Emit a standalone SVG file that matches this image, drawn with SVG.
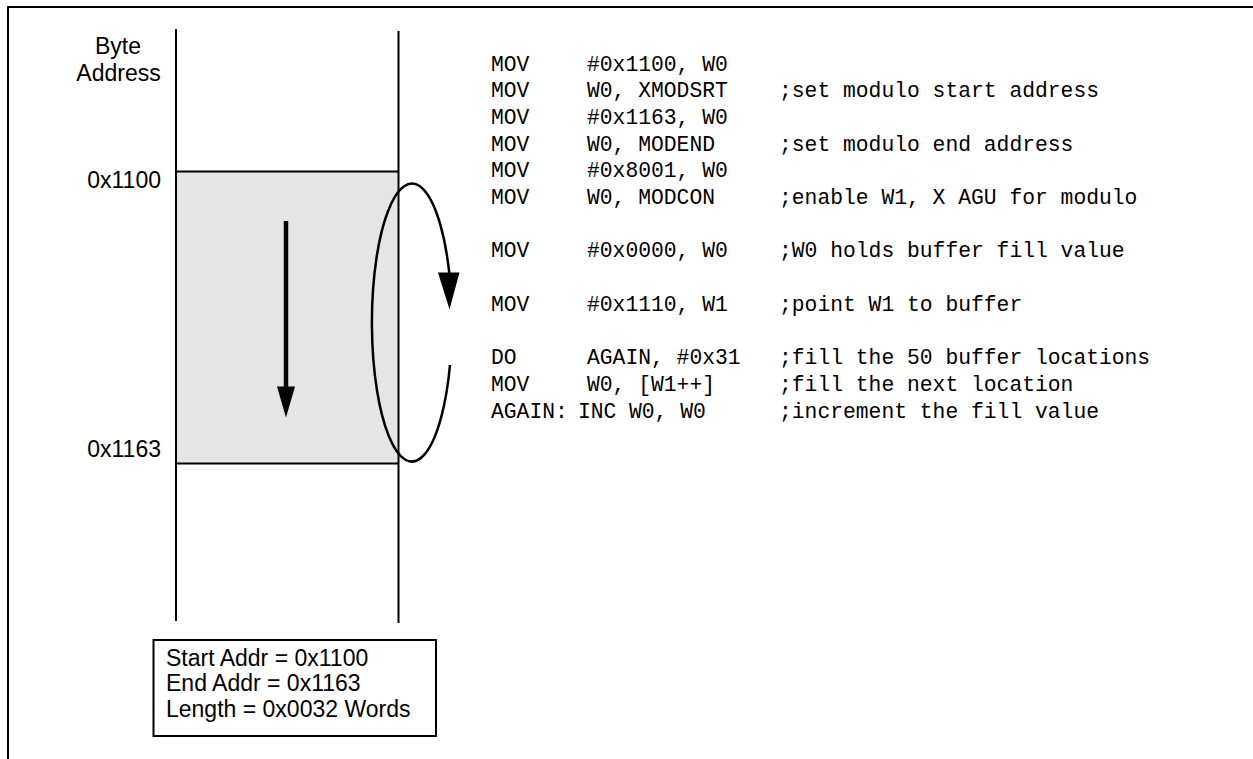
<svg xmlns="http://www.w3.org/2000/svg" width="1253" height="759" viewBox="0 0 1253 759">
<style>
.lbl{font-family:"Liberation Sans",Arial,sans-serif;font-size:23px;fill:#000}
.code{font-family:"Liberation Mono","Courier New",monospace;font-size:21.33px;fill:#000}
.ln{stroke:#000;stroke-width:2;fill:none}
</style>
<rect width="1253" height="759" fill="#fff"/>
<g id="frame">
<path class="ln" d="M8,759 V7 H1253" stroke-width="2.5"/>
</g>
<g id="memory">
<rect x="176" y="171.5" width="222.5" height="292" fill="#e5e5e5"/>
<line class="ln" x1="176" y1="29" x2="176" y2="621"/>
<line class="ln" x1="398.5" y1="31" x2="398.5" y2="623"/>
<line class="ln" x1="176" y1="171.5" x2="398.5" y2="171.5"/>
<line class="ln" x1="176" y1="463.5" x2="398.5" y2="463.5"/>
</g>
<g id="labels">
<text class="lbl" x="118" y="54" text-anchor="middle">Byte</text>
<text class="lbl" x="118.5" y="80.5" text-anchor="middle">Address</text>
<text class="lbl" x="161" y="188" text-anchor="end">0x1100</text>
<text class="lbl" x="161" y="456.5" text-anchor="end">0x1163</text>
</g>
<g id="connectors">
<line x1="286" y1="221" x2="286" y2="390" stroke="#000" stroke-width="4.5"/>
<polygon points="277,386.5 295,386.5 286,417.5" fill="#000"/>
<path d="M450,365 A40,139 0 1 1 449.6,276" stroke="#000" stroke-width="2.5" fill="none"/>
<polygon points="438,272.5 459.5,272.5 449.5,309.5" fill="#000"/>
</g>
<g id="code">
<text class="code" x="491" y="70.5">MOV</text>
<text class="code" x="587" y="70.5">#0x1100, W0</text>
<text class="code" x="491" y="97.2">MOV</text>
<text class="code" x="587" y="97.2">W0, XMODSRT</text>
<text class="code" x="779" y="97.2">;set modulo start address</text>
<text class="code" x="491" y="123.9">MOV</text>
<text class="code" x="587" y="123.9">#0x1163, W0</text>
<text class="code" x="491" y="150.6">MOV</text>
<text class="code" x="587" y="150.6">W0, MODEND</text>
<text class="code" x="779" y="150.6">;set modulo end address</text>
<text class="code" x="491" y="177.3">MOV</text>
<text class="code" x="587" y="177.3">#0x8001, W0</text>
<text class="code" x="491" y="204">MOV</text>
<text class="code" x="587" y="204">W0, MODCON</text>
<text class="code" x="779" y="204">;enable W1, X AGU for modulo</text>
<text class="code" x="491" y="257.4">MOV</text>
<text class="code" x="587" y="257.4">#0x0000, W0</text>
<text class="code" x="779" y="257.4">;W0 holds buffer fill value</text>
<text class="code" x="491" y="310.8">MOV</text>
<text class="code" x="587" y="310.8">#0x1110, W1</text>
<text class="code" x="779" y="310.8">;point W1 to buffer</text>
<text class="code" x="491" y="364.2">DO</text>
<text class="code" x="587" y="364.2">AGAIN, #0x31</text>
<text class="code" x="779" y="364.2">;fill the 50 buffer locations</text>
<text class="code" x="491" y="390.9">MOV</text>
<text class="code" x="587" y="390.9">W0, [W1++]</text>
<text class="code" x="779" y="390.9">;fill the next location</text>
<text class="code" x="491" y="417.6">AGAIN:</text>
<text class="code" x="578" y="417.6">INC</text>
<text class="code" x="629" y="417.6">W0, W0</text>
<text class="code" x="779" y="417.6">;increment the fill value</text>
</g>
<g id="info-box">
<rect x="153.5" y="640" width="282.5" height="96" fill="#fff" stroke="#000" stroke-width="2"/>
<text class="lbl" x="166" y="665.5">Start Addr = 0x1100</text>
<text class="lbl" x="166" y="691">End Addr = 0x1163</text>
<text class="lbl" x="166" y="716.5">Length = 0x0032 Words</text>
</g>
</svg>
